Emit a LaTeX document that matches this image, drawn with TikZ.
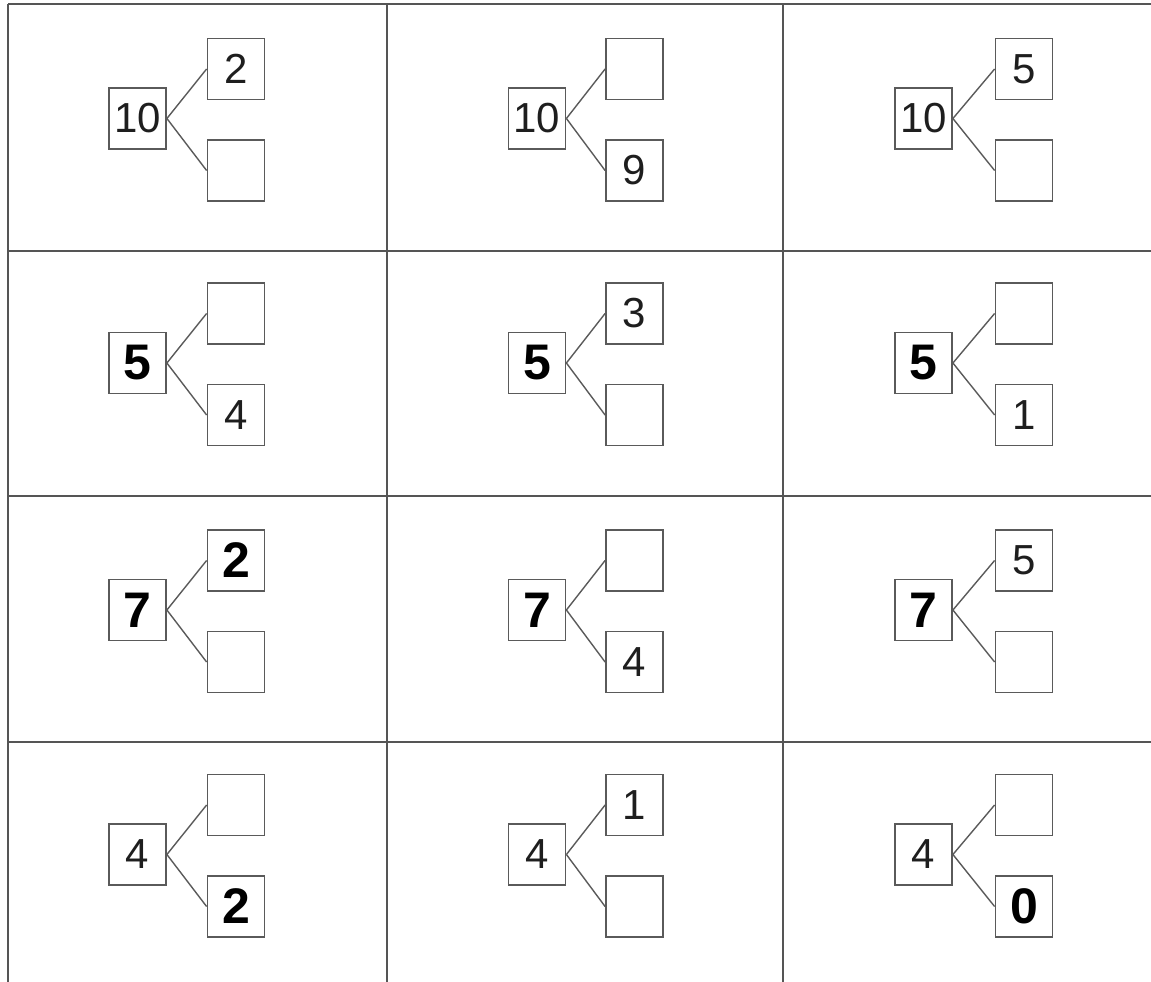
\documentclass[tikz,border=0pt]{standalone}
\usepackage{fontspec}
\newfontfamily\thinfont{Liberation Sans}
\newfontfamily\boldfont{Liberation Sans}[BoldFont={Liberation Sans Bold}]
\definecolor{gridgray}{HTML}{555555}
\definecolor{boxgray}{HTML}{5A5A5A}
\definecolor{inkc}{HTML}{1E1E1E}
\newcommand\tn[1]{{\thinfont\fontsize{42}{42}\selectfont #1}}
\newcommand\bn[1]{{\color{black}\boldfont\bfseries\fontsize{50}{50}\selectfont #1}}
% \numtree{name}{leftx}{rightx}{cy}{left text}{top text}{bottom text}
\newcommand\numtree[7]{%
  \node[numbox] (#1L) at (#2,#4) {#5};
  \node[numbox] (#1T) at (#3,#4-49.5) {#6};
  \node[numbox] (#1B) at (#3,#4+52) {#7};
  \draw[link] (#1L.east) -- (#1T.west);
  \draw[link] (#1L.east) -- (#1B.west);
}
\begin{document}
\begin{tikzpicture}[x=1pt,y=-1pt,
  numbox/.style={draw=boxgray,line width=1.8pt,minimum width=57pt,minimum height=61pt,inner sep=0pt,text=inkc,fill=white},
  link/.style={draw=boxgray,line width=1.4pt},
  gridline/.style={draw=gridgray,line width=2pt}]
\useasboundingbox (0,0) rectangle (1151,982);
% grid
\draw[gridline] (8,4) -- (1151,4);
\draw[gridline] (8,250.5) -- (1151,250.5);
\draw[gridline] (8,495.5) -- (1151,495.5);
\draw[gridline] (8,742) -- (1151,742);
\draw[gridline] (8,4) -- (8,982);
\draw[gridline] (386.5,4) -- (386.5,982);
\draw[gridline] (783,4) -- (783,982);
% row 1
\numtree{a}{137.5}{236}{118.5}{\tn{10}}{\tn{2}}{}
\numtree{b}{537}{634.5}{118.5}{\tn{10}}{}{\tn{9}}
\numtree{c}{923.5}{1024}{118.5}{\tn{10}}{\tn{5}}{}
% row 2
\numtree{d}{137.5}{236}{363}{\bn{5}}{}{\tn{4}}
\numtree{e}{537}{634.5}{363}{\bn{5}}{\tn{3}}{}
\numtree{f}{923.5}{1024}{363}{\bn{5}}{}{\tn{1}}
% row 3
\numtree{g}{137.5}{236}{610}{\bn{7}}{\bn{2}}{}
\numtree{h}{537}{634.5}{610}{\bn{7}}{}{\tn{4}}
\numtree{i}{923.5}{1024}{610}{\bn{7}}{\tn{5}}{}
% row 4
\numtree{j}{137.5}{236}{854.5}{\tn{4}}{}{\bn{2}}
\numtree{k}{537}{634.5}{854.5}{\tn{4}}{\tn{1}}{}
\numtree{l}{923.5}{1024}{854.5}{\tn{4}}{}{\bn{0}}
\end{tikzpicture}
\end{document}
